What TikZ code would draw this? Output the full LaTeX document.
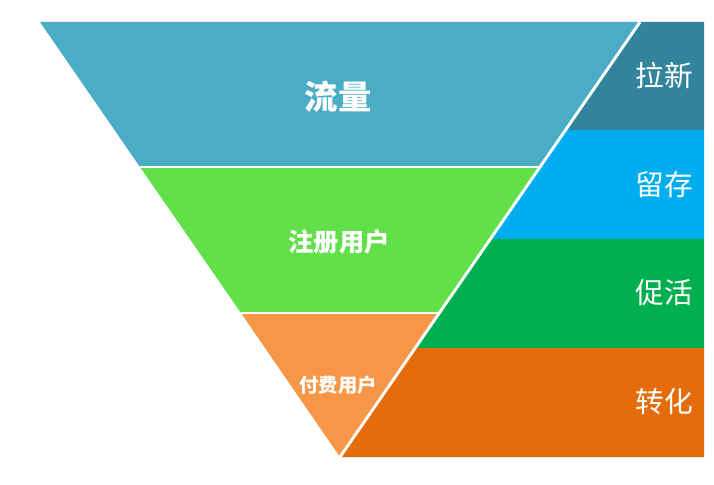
\documentclass[tikz,border=0pt]{standalone}
\usepackage{fontspec}
\setmainfont{Noto Sans CJK SC}
\definecolor{cflow}{HTML}{4BACC6}
\definecolor{creg}{HTML}{62E04A}
\definecolor{cpaid}{HTML}{F79646}
\definecolor{cnew}{HTML}{31849B}
\definecolor{ckeep}{HTML}{00AEEF}
\definecolor{cact}{HTML}{00B050}
\definecolor{cconv}{HTML}{E46C0A}
\tikzset{sep/.style={draw=white,line width=2.2pt},
 lab/.style={text=white,font=\fontsize{21.5}{24}\selectfont},
 fl/.style={text=white,font=\bfseries}}
\begin{document}
\begin{tikzpicture}[x=0.75pt,y=-0.75pt]
\useasboundingbox[fill=white] (0,0) rectangle (714,485);
\coordinate (t) at (640,22);
\coordinate (apex) at (340,457);
% right panel
\fill[cnew] (640,22) -- (704,22) -- (704,130) -- (565.5,130) -- cycle;
\fill[ckeep] (565.5,130) -- (704,130) -- (704,239) -- (490.3,239) -- cycle;
\fill[cact] (490.3,239) -- (704,239) -- (704,348) -- (415.2,348) -- cycle;
\fill[cconv] (415.2,348) -- (704,348) -- (704,457) -- (340,457) -- cycle;
% funnel
\fill[cflow] (40,22) -- (640,22) -- (541,167) -- (140,167) -- cycle;
\fill[creg] (140,167) -- (541,167) -- (440,313) -- (241,313) -- cycle;
\fill[cpaid] (241,313) -- (440,313) -- (340,457) -- cycle;
\draw[sep] (140,167) -- (541,167);
\draw[sep] (241,313) -- (440,313);
\draw[sep] (t) -- (apex);
\node[fl,font=\bfseries\fontsize{25}{28}\selectfont] (a) at (338,97) {流量};
\node[fl,font=\bfseries\fontsize{19}{22}\selectfont] (b) at (339,242) {注册用户};
\node[fl,font=\bfseries\fontsize{14.5}{17}\selectfont] (c) at (338,385) {付费用户};
\node[lab] (d) at (664,75) {拉新};
\node[lab] (e) at (664,185) {留存};
\node[lab] (f) at (664,293) {促活};
\node[lab] (g) at (664,402) {转化};
\end{tikzpicture}
\end{document}
